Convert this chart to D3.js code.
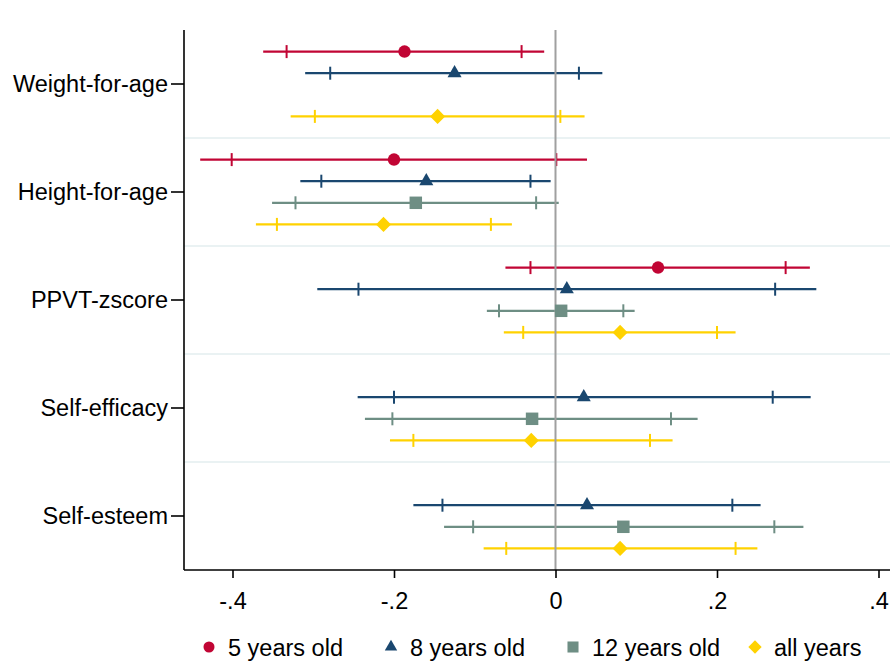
<!DOCTYPE html>
<html><head><meta charset="utf-8">
<script src="https://cdn.jsdelivr.net/npm/d3@7"></script>
<style>body{margin:0;background:#fff}svg{display:block}text{font-family:"Liberation Sans",Arial,sans-serif}</style>
</head><body><svg id="c" width="890" height="663"></svg>
<script>
const categories = ["Weight-for-age","Height-for-age","PPVT-zscore","Self-efficacy","Self-esteem"];
const seriesNames = ["5 years old","8 years old","12 years old","all years"];
const xTicks = [-0.4,-0.2,0,0.2,0.4];

// 5 years old
const est5   = [-0.187,-0.200, 0.127, null, null];
const lo95_5 = [-0.362,-0.440,-0.062, null, null];
const hi95_5 = [-0.014, 0.039, 0.315, null, null];
const lo90_5 = [-0.333,-0.401,-0.031, null, null];
const hi90_5 = [-0.042, 0.001, 0.285, null, null];
// 8 years old
const est8   = [-0.125,-0.160, 0.014, 0.035, 0.039];
const lo95_8 = [-0.310,-0.316,-0.295,-0.245,-0.176];
const hi95_8 = [ 0.058,-0.006, 0.323, 0.316, 0.254];
const lo90_8 = [-0.279,-0.290,-0.244,-0.200,-0.140];
const hi90_8 = [ 0.029,-0.031, 0.272, 0.269, 0.219];
// 12 years old
const est12   = [null,-0.173, 0.007,-0.029, 0.084];
const lo95_12 = [null,-0.351,-0.085,-0.236,-0.138];
const hi95_12 = [null, 0.004, 0.098, 0.176, 0.307];
const lo90_12 = [null,-0.322,-0.070,-0.202,-0.102];
const hi90_12 = [null,-0.024, 0.084, 0.143, 0.271];
// all years
const estAll   = [-0.146,-0.213, 0.080,-0.030, 0.080];
const lo95_all = [-0.328,-0.371,-0.064,-0.205,-0.089];
const hi95_all = [ 0.036,-0.054, 0.223, 0.145, 0.250];
const lo90_all = [-0.298,-0.345,-0.040,-0.176,-0.061];
const hi90_all = [ 0.006,-0.080, 0.200, 0.117, 0.223];

const colors = ["#C10534","#1A476F","#6E8E84","#FFD200"];
const shapes = ["circle","triangle","square","diamond"];

const series = [
  {est:est5, lo95:lo95_5, hi95:hi95_5, lo90:lo90_5, hi90:hi90_5},
  {est:est8, lo95:lo95_8, hi95:hi95_8, lo90:lo90_8, hi90:hi90_8},
  {est:est12, lo95:lo95_12, hi95:hi95_12, lo90:lo90_12, hi90:hi90_12},
  {est:estAll, lo95:lo95_all, hi95:hi95_all, lo90:lo90_all, hi90:hi90_all}
];

const W = 890;
const mLeft = 184, mTop = 30, mBottom = 570;
const svg = d3.select("#c");
const x = d3.scaleLinear().domain([-0.4,0.4]).range([232.5,878.5]);
const y = d3.scaleBand().domain(categories).range([mTop,mBottom]).padding(0);
const rowY = (cat,i) => y(cat) + (i+1)*y.bandwidth()/5;

function shapePath(shape, s){
  if(shape==="circle"){ const r=s*0.48; return d3.symbol(d3.symbolCircle, Math.PI*r*r)(); }
  if(shape==="triangle"){ const a=s*1.08; return d3.symbol(d3.symbolTriangle, a*a*Math.sqrt(3)/4)(); }
  if(shape==="square"){ const h=s*0.48; return `M${-h},${-h}H${h}V${h}H${-h}Z`; }
  const h=s*0.58; return `M0,${-h}L${h},0L0,${h}L${-h},0Z`;
}

// separators
const seps = categories.slice(1).map(c=>y(c));
svg.append("g").selectAll("line").data(seps).join("line")
  .attr("x1",mLeft).attr("x2",W).attr("y1",d=>d).attr("y2",d=>d)
  .attr("stroke","#EAF2F3").attr("stroke-width",2);

// CI lines
const gCI = svg.append("g");
series.forEach((s,si)=>{
  categories.forEach((cat,ci)=>{
    if(s.est[ci]==null) return;
    const yy = rowY(cat,si);
    gCI.append("line").attr("x1",x(s.lo95[ci])).attr("x2",x(s.hi95[ci]))
      .attr("y1",yy).attr("y2",yy).attr("stroke",colors[si]).attr("stroke-width",2.2);
    [s.lo90[ci],s.hi90[ci]].forEach(v=>{
      gCI.append("line").attr("x1",x(v)).attr("x2",x(v))
        .attr("y1",yy-6.5).attr("y2",yy+6.5).attr("stroke",colors[si]).attr("stroke-width",2);
    });
  });
});

// zero line
svg.append("line").attr("x1",x(0)).attr("x2",x(0)).attr("y1",mTop).attr("y2",mBottom)
  .attr("stroke","#A0A0A0").attr("stroke-width",2);

// markers
const gM = svg.append("g");
series.forEach((s,si)=>{
  categories.forEach((cat,ci)=>{
    if(s.est[ci]==null) return;
    gM.append("path").attr("d",shapePath(shapes[si],13))
      .attr("transform",`translate(${x(s.est[ci])},${rowY(cat,si)})`)
      .attr("fill",colors[si]);
  });
});

// axes
const yAxis = svg.append("g").attr("transform",`translate(${mLeft},0)`)
  .call(d3.axisLeft(y).tickSize(13).tickPadding(3));
yAxis.select(".domain").attr("d",`M0,${mTop}V${mBottom}`).attr("stroke-width",1.6);
yAxis.selectAll(".tick line").attr("stroke-width",1.6);
yAxis.selectAll("text").attr("font-size","23.5px").attr("fill","#000");

const fmt = d => d===0 ? "0" : d3.format(".1f")(d).replace("\u2212","-").replace("0.",".");
const xAxis = svg.append("g").attr("transform",`translate(0,${mBottom})`)
  .call(d3.axisBottom(x).tickValues(xTicks).tickFormat(fmt).tickSize(8).tickPadding(14));
xAxis.select(".domain").attr("d",`M${mLeft},0H${W}`).attr("stroke-width",1.6);
xAxis.selectAll(".tick line").attr("stroke-width",1.6);
xAxis.selectAll("text").attr("font-size","23.5px").attr("fill","#000");

// legend
const legend = svg.append("g").attr("transform","translate(209,647)");
seriesNames.forEach((n,i)=>{
  const g = legend.append("g").attr("transform",`translate(${i*182},0)`);
  g.append("path").attr("d",shapePath(shapes[i],11.5)).attr("fill",colors[i]);
  g.append("text").attr("x",19).attr("y",8.5).attr("font-size","23.5px").text(n);
});
</script></body></html>
